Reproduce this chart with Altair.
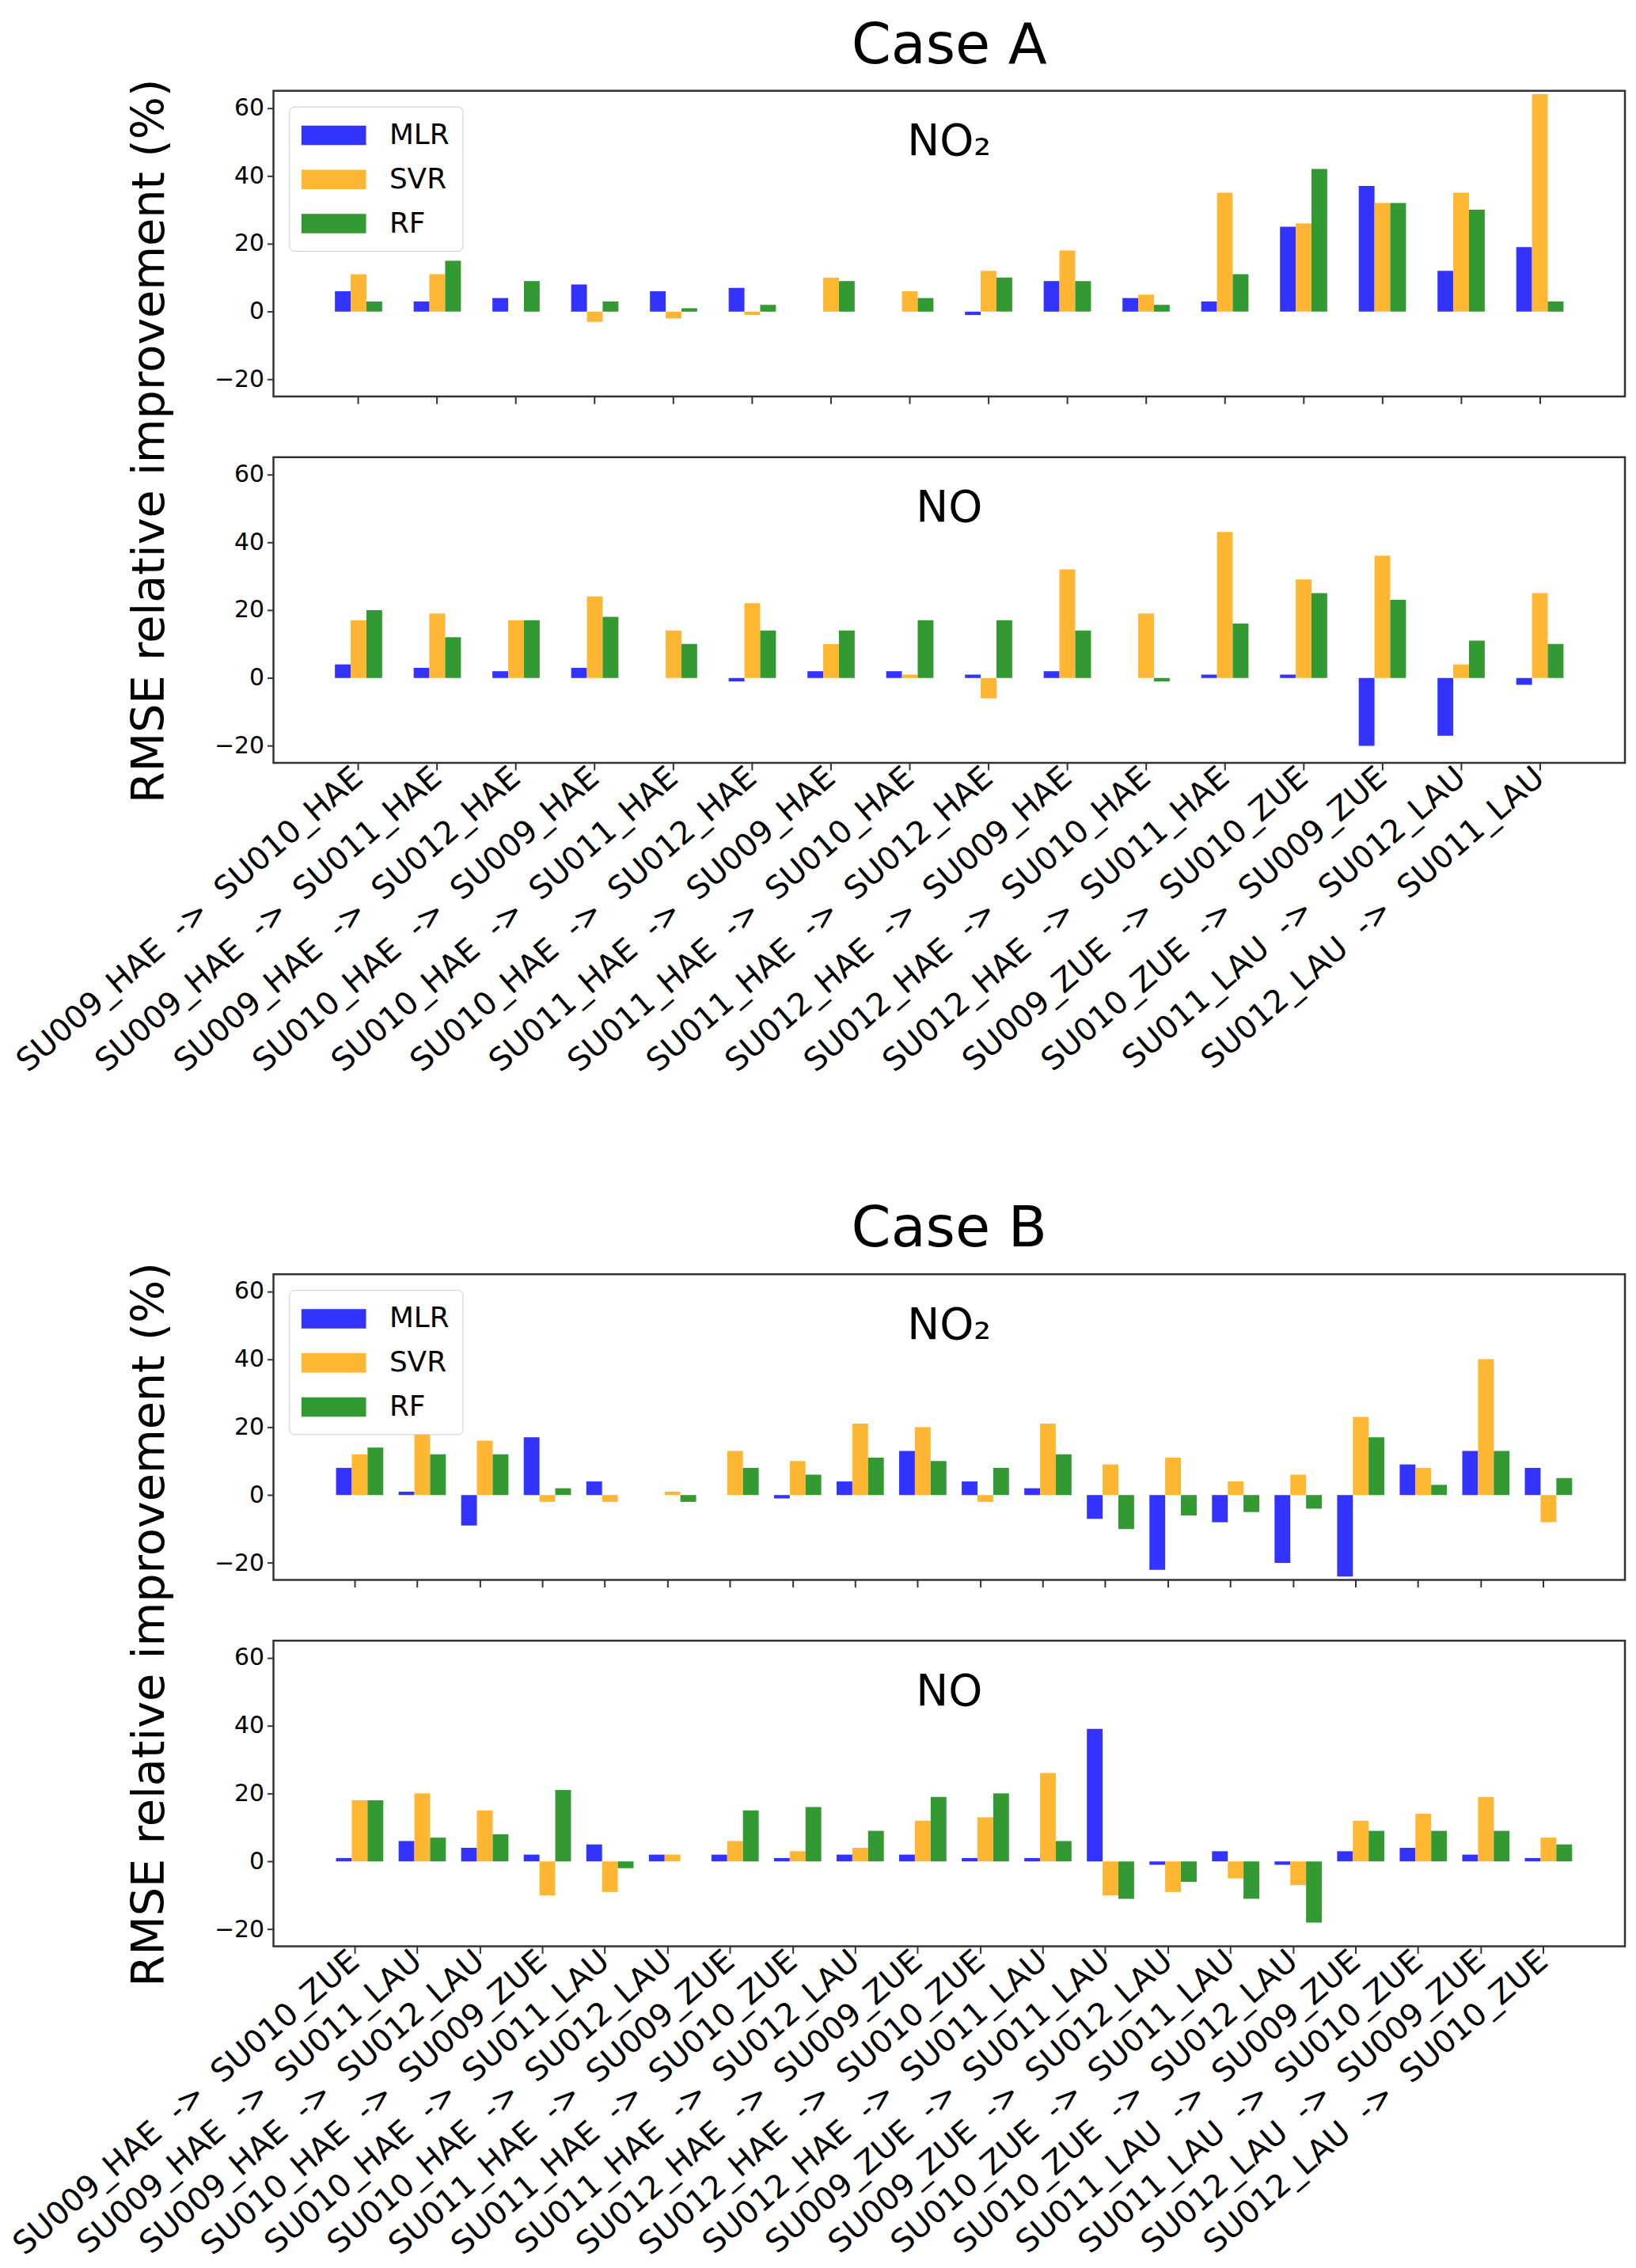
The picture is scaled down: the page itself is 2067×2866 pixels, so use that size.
import altair as alt
import pandas as pd

FONT = "DejaVu Sans"

models = ["MLR", "SVR", "RF"]
model_colors = ["#3333ff", "#ffb733", "#339933"]

# Case A: transfers between sensor units
pairs_a = [
    "SU009_HAE -> SU010_HAE", "SU009_HAE -> SU011_HAE", "SU009_HAE -> SU012_HAE",
    "SU010_HAE -> SU009_HAE", "SU010_HAE -> SU011_HAE", "SU010_HAE -> SU012_HAE",
    "SU011_HAE -> SU009_HAE", "SU011_HAE -> SU010_HAE", "SU011_HAE -> SU012_HAE",
    "SU012_HAE -> SU009_HAE", "SU012_HAE -> SU010_HAE", "SU012_HAE -> SU011_HAE",
    "SU009_ZUE -> SU010_ZUE", "SU010_ZUE -> SU009_ZUE",
    "SU011_LAU -> SU012_LAU", "SU012_LAU -> SU011_LAU",
]
a_no2_mlr = [6, 3, 4, 8, 6, 7, 0, 0, -1, 9, 4, 3, 25, 37, 12, 19]
a_no2_svr = [11, 11, 0, -3, -2, -1, 10, 6, 12, 18, 5, 35, 26, 32, 35, 64]
a_no2_rf = [3, 15, 9, 3, 1, 2, 9, 4, 10, 9, 2, 11, 42, 32, 30, 3]
a_no_mlr = [4, 3, 2, 3, 0, -1, 2, 2, 1, 2, 0, 1, 1, -20, -17, -2]
a_no_svr = [17, 19, 17, 24, 14, 22, 10, 1, -6, 32, 19, 43, 29, 36, 4, 25]
a_no_rf = [20, 12, 17, 18, 10, 14, 14, 17, 17, 14, -1, 16, 25, 23, 11, 10]

# Case B
pairs_b = [
    "SU009_HAE -> SU010_ZUE", "SU009_HAE -> SU011_LAU", "SU009_HAE -> SU012_LAU",
    "SU010_HAE -> SU009_ZUE", "SU010_HAE -> SU011_LAU", "SU010_HAE -> SU012_LAU",
    "SU011_HAE -> SU009_ZUE", "SU011_HAE -> SU010_ZUE", "SU011_HAE -> SU012_LAU",
    "SU012_HAE -> SU009_ZUE", "SU012_HAE -> SU010_ZUE", "SU012_HAE -> SU011_LAU",
    "SU009_ZUE -> SU011_LAU", "SU009_ZUE -> SU012_LAU",
    "SU010_ZUE -> SU011_LAU", "SU010_ZUE -> SU012_LAU",
    "SU011_LAU -> SU009_ZUE", "SU011_LAU -> SU010_ZUE",
    "SU012_LAU -> SU009_ZUE", "SU012_LAU -> SU010_ZUE",
]
b_no2_mlr = [8, 1, -9, 17, 4, 0, 0, -1, 4, 13, 4, 2, -7, -22, -8, -20, -24, 9, 13, 8]
b_no2_svr = [12, 18, 16, -2, -2, 1, 13, 10, 21, 20, -2, 21, 9, 11, 4, 6, 23, 8, 40, -8]
b_no2_rf = [14, 12, 12, 2, 0, -2, 8, 6, 11, 10, 8, 12, -10, -6, -5, -4, 17, 3, 13, 5]
b_no_mlr = [1, 6, 4, 2, 5, 2, 2, 1, 2, 2, 1, 1, 39, -1, 3, -1, 3, 4, 2, 1]
b_no_svr = [18, 20, 15, -10, -9, 2, 6, 3, 4, 12, 13, 26, -10, -9, -5, -7, 12, 14, 19, 7]
b_no_rf = [18, 7, 8, 21, -2, 0, 15, 16, 9, 19, 20, 6, -11, -6, -11, -18, 9, 9, 9, 5]

y_ticks = [-20, 0, 20, 40, 60]
y_title = "RMSE relative improvement (%)"

W = 1715
H = 388
GAP = 77
NB = "\u00a0"


def label(p):
    # matplotlib labels have wide gaps around the arrow
    return p.replace(" -> ", NB * 2 + "->" + NB * 2)


def long_table(pairs, mlr, svr, rf):
    rows = []
    for i, p in enumerate(pairs):
        for m, v in zip(models, (mlr[i], svr[i], rf[i])):
            rows.append({"pair": label(p), "model": m, "value": v})
    return pd.DataFrame(rows)


def note(text, size, x, y, angle=0):
    return alt.Chart(pd.DataFrame({"t": [text]})).mark_text(
        font=FONT, fontSize=size, angle=angle, align="center",
        baseline="alphabetic" if angle == 0 else "middle", color="black"
    ).encode(text="t:N", x=alt.value(x), y=alt.value(y))


def panel(df, pairs, pad_outer, gas, top, case_title=None):
    x_axis = alt.Axis(
        title=None, labels=not top, domain=False, ticks=True, tickSize=9,
        labelAngle=-41, labelAlign="right", labelBaseline="middle",
        labelFontSize=40, labelPadding=4, labelFont=FONT, labelLimit=2000,
    )
    legend = alt.Legend(
        title=None, orient="top-left", offset=20, padding=16,
        strokeColor="#cccccc", fillColor="white", cornerRadius=6,
        labelFontSize=36, labelFont=FONT, labelOffset=50, symbolOffset=20,
        symbolType="M-2,-0.6H2V0.6H-2Z", symbolSize=1681,
        symbolStrokeWidth=0, rowPadding=17,
    ) if top else None
    bars = alt.Chart(df).mark_bar().encode(
        x=alt.X("pair:N", sort=[label(p) for p in pairs], axis=x_axis,
                scale=alt.Scale(paddingInner=0.4, paddingOuter=pad_outer)),
        xOffset=alt.XOffset("model:N", sort=models,
                            scale=alt.Scale(paddingInner=0, paddingOuter=0)),
        y=alt.Y("value:Q", scale=alt.Scale(domain=[-25, 65], nice=False),
                axis=alt.Axis(values=y_ticks, title=None, grid=False, domain=False,
                              tickSize=8, labelFontSize=30, labelFont=FONT,
                              labelPadding=4, format="d")),
        color=alt.Color("model:N", sort=models, legend=legend,
                        scale=alt.Scale(domain=models, range=model_colors)),
    )
    layers = [bars, note(gas, 55, W / 2, 82)]
    if top:
        layers.append(note(y_title, 57.5, -156, H + GAP / 2 + 18, angle=270))
        layers.append(note(case_title, 72, W / 2, -35))
    return alt.layer(*layers).properties(width=W, height=H)


def block(pairs, pad_outer, no2, no, case_title):
    top = panel(long_table(pairs, *no2), pairs, pad_outer, "NO\u2082", True, case_title)
    bottom = panel(long_table(pairs, *no), pairs, pad_outer, "NO", False)
    return alt.vconcat(top, bottom, spacing=GAP, bounds="flush").resolve_scale(
        color="independent").resolve_legend(color="independent")


case_a = block(pairs_a, 0.78, (a_no2_mlr, a_no2_svr, a_no2_rf),
               (a_no_mlr, a_no_svr, a_no_rf), "Case A")
case_b = block(pairs_b, 1.0, (b_no2_mlr, b_no2_svr, b_no2_rf),
               (b_no_mlr, b_no_svr, b_no_rf), "Case B")

chart = alt.vconcat(case_a, case_b, spacing=153).resolve_scale(
    color="independent").resolve_legend(color="independent").properties(
    padding={"left": 0, "top": 6, "right": 4, "bottom": 0},
    background="white",
).configure_view(
    stroke="#333333", strokeWidth=2.5
).configure_axis(
    tickColor="#333333", tickWidth=2, labelColor="black"
)

chart.save("out.html", embed_options={"renderer": "svg", "actions": False})
